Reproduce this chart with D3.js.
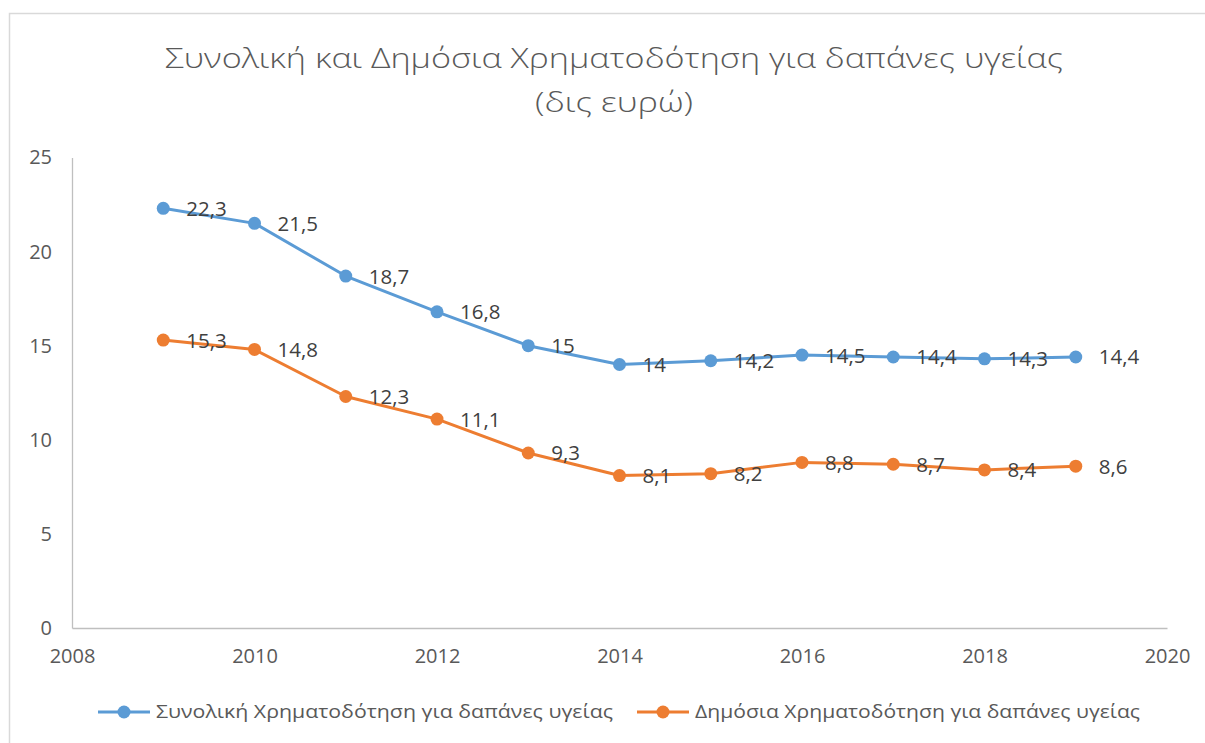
<!DOCTYPE html>
<html><head><meta charset="utf-8">
<script src="https://cdn.jsdelivr.net/npm/d3@7"></script>
<style>body{margin:0;background:#fff;}svg{display:block;}</style>
</head><body>
<script>
const years = [2009,2010,2011,2012,2013,2014,2015,2016,2017,2018,2019];
const totalValues = [22.3,21.5,18.7,16.8,15,14,14.2,14.5,14.4,14.3,14.4];
const publicValues = [15.3,14.8,12.3,11.1,9.3,8.1,8.2,8.8,8.7,8.4,8.6];
const seriesNames = ["Συνολική Χρηματοδότηση για δαπάνες υγείας","Δημόσια Χρηματοδότηση για δαπάνες υγείας"];
const xTicks = [2008,2010,2012,2014,2016,2018,2020];
const yTicks = [0,5,10,15,20,25];
const titleLines = ["Συνολική και Δημόσια Χρηματοδότηση για δαπάνες υγείας","(δις ευρώ)"];

const W=1205,H=743;
const font="'Open Sans', sans-serif";
const svg=d3.select("body").append("svg").attr("width",W).attr("height",H);
svg.append("rect").attr("x",9.5).attr("y",13.5).attr("width",W).attr("height",H).attr("fill","#fff").attr("stroke","#d9d9d9").attr("stroke-width",1.5);

const x=d3.scaleLinear().domain([2008,2020]).range([72,1167]);
const y=d3.scaleLinear().domain([0,25]).range([628,157.5]);

// title
svg.append("text").attr("x",614).attr("y",68).attr("text-anchor","middle").attr("font-family",font).attr("font-weight",300)
 .attr("font-size",27).attr("fill","#595959").attr("textLength",898).attr("lengthAdjust","spacingAndGlyphs").text(titleLines[0]);
svg.append("text").attr("x",614).attr("y",112).attr("text-anchor","middle").attr("font-family",font).attr("font-weight",300)
 .attr("font-size",27).attr("fill","#595959").attr("textLength",158).attr("lengthAdjust","spacingAndGlyphs").text(titleLines[1]);

// axes
const yAxis=d3.axisLeft(y).tickValues(yTicks).tickSize(0).tickPadding(20);
const gy=svg.append("g").attr("transform","translate(72,0)").call(yAxis);
gy.select(".domain").attr("stroke","#bfbfbf").attr("stroke-width",1.3);
gy.selectAll("text").attr("font-family",font).attr("font-size",20).attr("fill","#595959");

const xAxis=d3.axisBottom(x).tickValues(xTicks).tickFormat(d3.format("d")).tickSize(0).tickPadding(21);
const gx=svg.append("g").attr("transform","translate(0,628)").call(xAxis);
gx.select(".domain").attr("stroke","#bfbfbf").attr("stroke-width",1.3);
gx.selectAll("text").attr("font-family",font).attr("font-size",20).attr("fill","#595959");

const colors=["#5B9BD5","#ED7D31"];
const fmt=v=>String(v).replace(".",",");
[totalValues,publicValues].forEach((vals,i)=>{
  const data=years.map((yr,j)=>({yr,v:vals[j]}));
  const line=d3.line().x(d=>x(d.yr)).y(d=>y(d.v));
  svg.append("path").datum(data).attr("d",line).attr("fill","none").attr("stroke",colors[i]).attr("stroke-width",3).attr("stroke-linejoin","round");
  svg.selectAll(null).data(data).enter().append("circle").attr("cx",d=>x(d.yr)).attr("cy",d=>y(d.v)).attr("r",6.5).attr("fill",colors[i]);
  svg.selectAll(null).data(data).enter().append("text").attr("x",d=>x(d.yr)+23).attr("y",d=>y(d.v)+7.5)
    .attr("font-family",font).attr("font-size",20.5).attr("fill","#404040").text(d=>fmt(d.v));
});

// legend
const leg=[{x0:98,tx:156,len:457},{x0:637,tx:695,len:445}];
leg.forEach((l,i)=>{
  svg.append("line").attr("x1",l.x0).attr("x2",l.x0+52).attr("y1",712).attr("y2",712).attr("stroke",colors[i]).attr("stroke-width",3);
  svg.append("circle").attr("cx",l.x0+26).attr("cy",712).attr("r",6.5).attr("fill",colors[i]);
  svg.append("text").attr("x",l.tx).attr("y",718).attr("font-family",font).attr("font-size",18).attr("fill","#595959")
    .attr("textLength",l.len).attr("lengthAdjust","spacingAndGlyphs").text(seriesNames[i]);
});
</script>
</body></html>
